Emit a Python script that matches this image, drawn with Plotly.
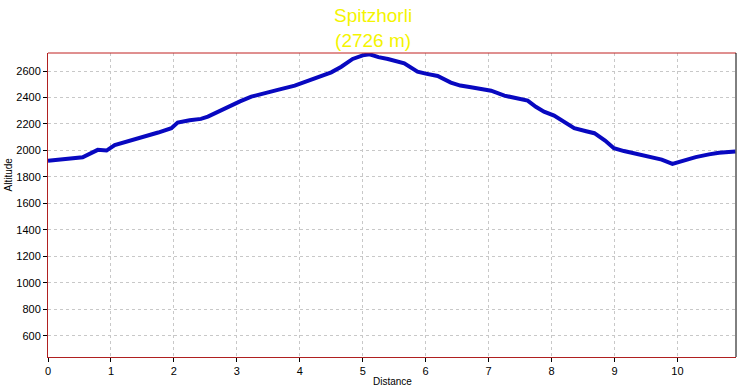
import plotly.graph_objects as go

distance_km = [0, 0.19, 0.42, 0.55, 0.79, 0.93, 1.06, 1.3, 1.53, 1.75, 1.96, 2.06, 2.25, 2.43,
               2.54, 2.7, 2.86, 3.05, 3.23, 3.45, 3.65, 3.92, 4.1, 4.34, 4.5, 4.66, 4.84, 5.0,
               5.11, 5.25, 5.4, 5.66, 5.87, 6.0, 6.19, 6.4, 6.55, 6.72, 7.04, 7.25, 7.45, 7.62,
               7.75, 7.88, 8.04, 8.2, 8.36, 8.55, 8.68, 8.85, 8.99, 9.15, 9.31, 9.58, 9.75,
               9.92, 10.1, 10.29, 10.5, 10.66, 10.92]
altitude_m = [1921, 1928, 1943, 1948, 2004, 1999, 2041, 2072, 2104, 2135, 2168, 2210, 2228, 2238,
              2255, 2292, 2331, 2370, 2406, 2430, 2457, 2489, 2520, 2557, 2590, 2632, 2691, 2718,
              2726, 2705, 2691, 2658, 2595, 2580, 2562, 2512, 2490, 2477, 2451, 2414, 2395, 2376,
              2330, 2293, 2263, 2215, 2168, 2145, 2130, 2075, 2017, 1995, 1979, 1947, 1930,
              1898, 1925, 1949, 1970, 1983, 1991]

x_ticks = [0, 1, 2, 3, 4, 5, 6, 7, 8, 9, 10]
y_ticks = [600, 800, 1000, 1200, 1400, 1600, 1800, 2000, 2200, 2400, 2600]
peak_name = "Spitzhorli"
peak_label = "(2726 m)"

fig = go.Figure()
fig.add_trace(go.Scatter(x=distance_km, y=altitude_m, mode="lines",
                         line=dict(color="#0808c0", width=4), showlegend=False,
                         hoverinfo="skip"))

font = dict(family="Liberation Sans, Arial, sans-serif", size=11, color="#000000")

fig.update_layout(
    width=737, height=388, autosize=False,
    margin=dict(l=48, r=1, t=53, b=31),
    paper_bgcolor="white", plot_bgcolor="white",
    font=font,
    xaxis=dict(range=[0, 10.93], tickvals=x_ticks, showgrid=True, gridcolor="#c8c8c8",
               griddash="3px,3px", gridwidth=1, zeroline=False, showline=True,
               linecolor="#b02020", linewidth=1, ticks="outside", ticklen=4,
               tickcolor="#000000", tickfont=font, automargin=False),
    yaxis=dict(range=[439, 2736], tickvals=y_ticks, showgrid=True, gridcolor="#c8c8c8",
               griddash="3px,3px", gridwidth=1, zeroline=False, showline=True,
               linecolor="#b02020", linewidth=1, ticks="outside", ticklen=4,
               tickcolor="#000000", tickfont=font, automargin=False),
    shapes=[
        dict(type="line", xref="paper", yref="paper", x0=0, x1=1, y0=1, y1=1,
             line=dict(color="#c02020", width=1)),
        dict(type="line", xref="paper", yref="paper", x0=1, x1=1, y0=0, y1=1,
             line=dict(color="#000000", width=1)),
    ],
    annotations=[
        dict(text=peak_name + "<br>" + peak_label, xref="paper", yref="paper",
             x=(373 - 48) / 688, y=1.0, xanchor="center", yanchor="bottom", yshift=0,
             showarrow=False, align="center",
             font=dict(family="Liberation Sans, Arial, sans-serif", size=19, color="#f4f400")),
        dict(text="Altitude", xref="paper", yref="paper", x=-48 / 688, y=(357 - 175) / 304,
             xanchor="left", yanchor="middle", textangle=-90, showarrow=False, xshift=0,
             font=dict(family="Liberation Sans, Arial, sans-serif", size=10, color="#000000")),
        dict(text="Distance", xref="paper", yref="paper", x=(392 - 48) / 688, y=0,
             xanchor="center", yanchor="top", yshift=-17, showarrow=False,
             font=dict(family="Liberation Sans, Arial, sans-serif", size=10, color="#000000")),
    ],
)

post = ("document.body.style.margin='0';document.body.style.padding='0';"
        "var gd=document.getElementById('{plot_id}');"
        "Plotly.relayout(gd,{width:737,height:388});")
fig.write_html("out.html", config={"responsive": False, "displayModeBar": False},
               post_script=post)
